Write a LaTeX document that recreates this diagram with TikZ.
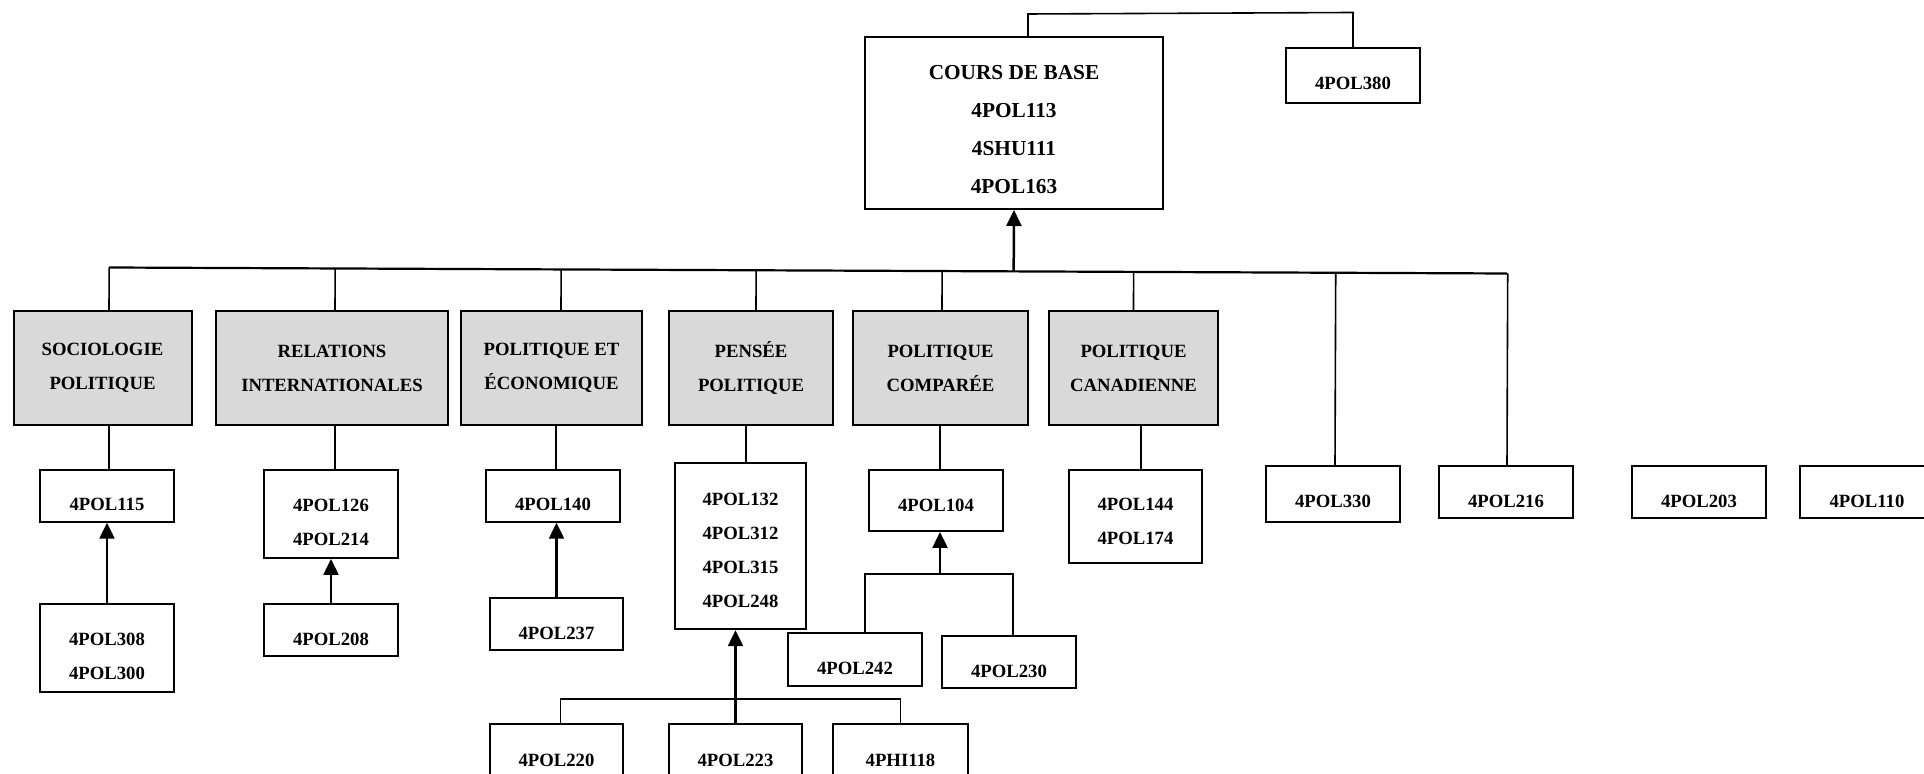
\documentclass[tikz,border=0pt]{standalone}
\usepackage{fontspec}
\setmainfont{Liberation Serif}
\usetikzlibrary{arrows.meta,calc}
\definecolor{catgrey}{HTML}{D9D9D9}
\newcommand\dn[1][14.5pt]{\rule{0pt}{#1}}
\begin{document}
\begin{tikzpicture}[x=0.5pt,y=-0.5pt,
  box/.style={draw, line width=1pt, align=center, inner sep=0pt,
    font=\fontsize{9.35pt}{17pt}\selectfont\bfseries},
  cat/.style={box, fill=catgrey, minimum height=57pt},
  con/.style={line width=0.8pt},
  busline/.style={line width=1.1pt},
  arr/.style={line width=1.25pt, -{Triangle[width=7.5pt,length=8pt]}},
]
\useasboundingbox (0,0) rectangle (1924,774);
\begin{scope}
\clip (0,0) rectangle (1924,774);
% top
\node[box, minimum width=149pt, minimum height=86pt,
  font=\fontsize{10.65pt}{19pt}\selectfont\bfseries] (cours) at (1014,123)
  {\dn[13.6pt]COURS DE BASE\\4POL113\\4SHU111\\4POL163};
\node[box, minimum width=67pt, minimum height=27.5pt] (p380) at (1353,75.5) {\dn 4POL380};
% categories
\node[cat, minimum width=89pt] (soc) at (102.5,368) {SOCIOLOGIE\\POLITIQUE};
\node[cat, minimum width=116pt] (rel) at (332,368) {RELATIONS\\INTERNATIONALES};
\node[cat, minimum width=90.5pt] (eco) at (551.5,368) {POLITIQUE ET\\ÉCONOMIQUE};
\node[cat, minimum width=82pt] (pen) at (751,368) {PENSÉE\\POLITIQUE};
\node[cat, minimum width=87.5pt] (comp) at (940.5,368) {POLITIQUE\\COMPARÉE};
\node[cat, minimum width=84.5pt] (can) at (1133.5,368) {POLITIQUE\\CANADIENNE};
% row 2
\node[box, minimum width=66.75pt, minimum height=25.75pt] (c115) at (107,496) {\dn 4POL115};
\node[box, minimum width=67pt, minimum height=44pt] (c126) at (331,514) {\dn 4POL126\\4POL214};
\node[box, minimum width=66.75pt, minimum height=25.75pt] (c140) at (553,496) {\dn 4POL140};
\node[box, minimum width=65.5pt, minimum height=83.25pt] (c132) at (740.5,546)
  {\dn[10.3pt]4POL132\\4POL312\\4POL315\\4POL248};
\node[box, minimum width=66.75pt, minimum height=30.5pt] (c104) at (936,500.5) {\dn[11.3pt]4POL104};
\node[box, minimum width=66.5pt, minimum height=46.5pt] (c144) at (1135.5,516.5) {\dn[10.8pt]4POL144\\4POL174};
\node[box, minimum width=67pt, minimum height=27.75pt] (c330) at (1333,494) {\dn[13.3pt]4POL330};
\node[box, minimum width=67pt, minimum height=26pt] (c216) at (1506,492) {\dn[15.3pt]4POL216};
\node[box, minimum width=67pt, minimum height=26pt] (c203) at (1699,492) {\dn[15.3pt]4POL203};
\node[box, minimum width=67pt, minimum height=26pt] (c110) at (1867,492) {\dn[15.3pt]4POL110};
% row 3
\node[box, minimum width=67pt, minimum height=44pt] (c308) at (107,648) {\dn 4POL308\\4POL300};
\node[box, minimum width=67pt, minimum height=26.25pt] (c208) at (331,630) {\dn[15.3pt]4POL208};
\node[box, minimum width=66.5pt, minimum height=26.25pt] (c237) at (556.5,624) {\dn[15.3pt]4POL237};
\node[box, minimum width=66.75pt, minimum height=26.5pt] (c242) at (855,659.5) {\dn[15.5pt]4POL242};
\node[box, minimum width=67pt, minimum height=26pt] (c230) at (1009,662) {\dn[15.3pt]4POL230};
% row 4
\node[box, minimum width=66.5pt, minimum height=36pt] (c220) at (556.5,760) {4POL220};
\node[box, minimum width=66.5pt, minimum height=36pt] (c223) at (735.5,760) {4POL223};
\node[box, minimum width=67.5pt, minimum height=36pt] (c118) at (900.5,760) {4PHI118};
% connectors
\coordinate (busL) at (109,267.5);
\coordinate (busR) at (1507,273.5);
\coordinate (topL) at (0,14);
\coordinate (topR) at (0,12.5);
\coordinate (cmpY) at (0,574);
\coordinate (penY) at (0,699);
\draw[busline] (busL) -- (busR);
\foreach \n/\s in {soc/3.25pt,rel/1.5pt,eco/4.75pt,pen/2.5pt,comp/0.75pt,can/0pt,c330/1pt,c216/0.5pt}
  \draw[con] ([xshift=\s]\n.north) -- ($(busL)!([xshift=\s]\n.north)!(busR)$);
\draw[arr] ($(busL)!(cours.south)!(busR)$) -- (cours.south);
\draw[con] ([xshift=7pt]cours.north) -- ([xshift=7pt]cours.north |- topL)
  -- (p380.north |- topR) -- (p380.north);
\foreach \a/\b/\s in {c115/soc/1pt,c126/rel/2pt,c140/eco/1.5pt,c132/pen/2.75pt,c104/comp/2pt,c144/can/2.75pt}
  \draw[con] ([xshift=\s]\a.north) -- ([xshift=\s]\a.north |- \b.south);
\draw[arr] (c308.north) -- (c308.north |- c115.south);
\draw[arr] (c208.north) -- (c208.north |- c126.south);
\draw[arr] (c237.north) -- (c237.north |- c140.south);
\draw[con] ([xshift=5pt]c242.north) -- ([xshift=5pt]c242.north |- cmpY)
  -- ([xshift=2pt]c230.north |- cmpY) -- ([xshift=2pt]c230.north);
\draw[arr] ([xshift=2pt]c104.south |- cmpY) -- ([xshift=2pt]c104.south);
\draw[con] ([xshift=2pt]c220.north) -- ([xshift=2pt]c220.north |- penY)
  -- (c118.north |- penY) -- (c118.north);
\draw[arr] (c223.north) -- (c223.north |- c132.south);
\end{scope}
\end{tikzpicture}
\end{document}
